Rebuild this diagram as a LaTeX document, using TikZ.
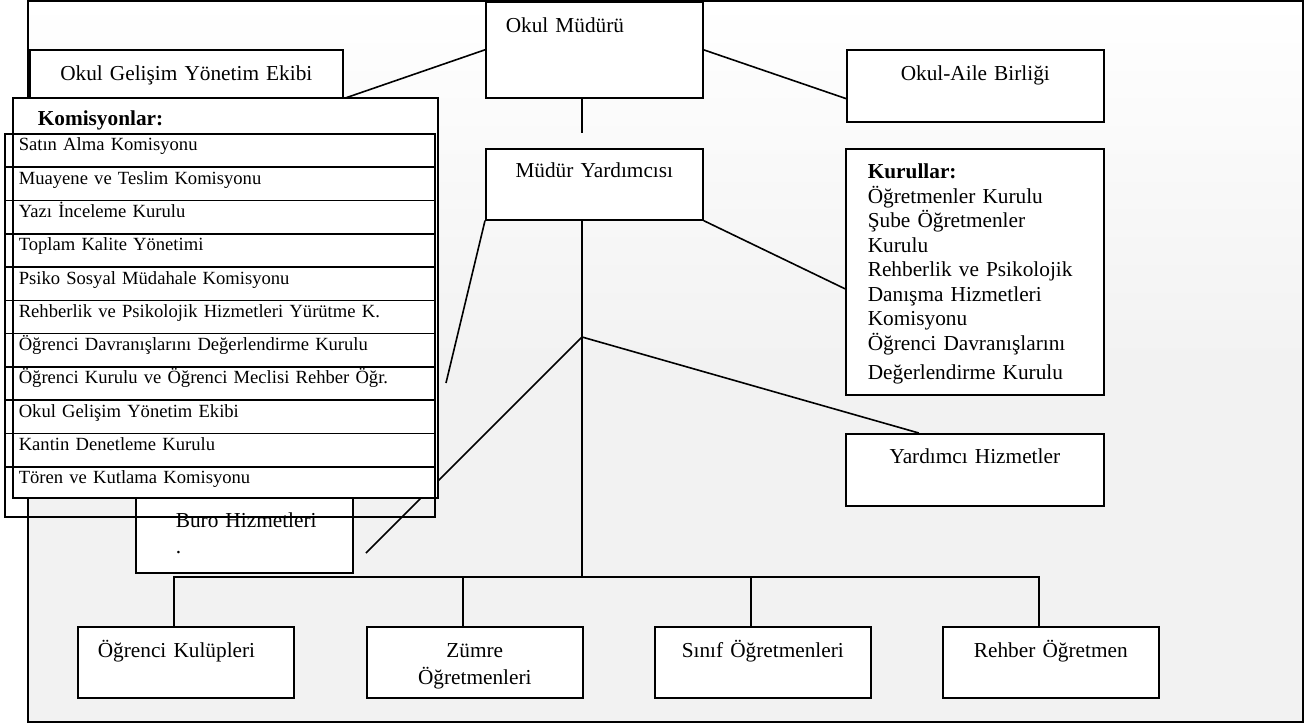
\documentclass[tikz,border=0pt]{standalone}
\usepackage{fontspec}
\setmainfont{Liberation Serif}
\usetikzlibrary{backgrounds}
\definecolor{bggray}{RGB}{242,242,242}

\begin{document}
\begin{tikzpicture}[x=1pt, y=-1pt, line width=1.6pt,
    box/.style={draw, rectangle, fill=white, anchor=north west, inner xsep=0pt, inner ysep=0pt,
      align=center, font=\fontsize{21.3}{24.5}\selectfont},
    altbox/.style={box, text width=216pt, text height=31pt, text depth=40pt},
    komrow/.style={draw, rectangle, anchor=north west, inner xsep=14pt, inner ysep=0pt,
      text width=402pt, align=left, text height=17pt, text depth=16.3pt,
      font=\fontsize{18.6}{21}\selectfont},
    baglanti/.style={draw, line width=1.6pt}]
  \useasboundingbox (0,0) rectangle (1310,726);

  % ust kisim
  \node[box, text width=177pt, inner xsep=20pt, align=left, text height=31pt, text depth=65pt] (mudur) at (485,1) {Okul Müdürü};
  \node[box, text width=313pt, text height=31pt, text depth=17pt] (ekip) at (29,49) {Okul Gelişim Yönetim Ekibi};
  \node[box, text width=257pt, text height=31pt, text depth=41pt] (aile) at (846,49) {Okul-Aile Birliği};
  \node[box, text width=217pt, text height=29pt, text depth=42pt] (mudyard) at (485,148) {Müdür Yardımcısı};
  \node[box, text width=214pt, inner xsep=22pt, align=left, text height=30pt, text depth=216pt] (kurul) at (845,148)
    {\textbf{Kurullar:}\\Öğretmenler Kurulu\\Şube Öğretmenler\\Kurulu\\Rehberlik ve Psikolojik\\Danışma Hizmetleri\\Komisyonu\\Öğrenci Davranışlarını\\[4.5pt]Değerlendirme Kurulu};
  \node[box, text width=258pt, text height=30pt, text depth=42pt] (yardhiz) at (845,433) {Yardımcı Hizmetler};
  \node[box, text width=177pt, inner xsep=20pt, align=left, text height=37pt, text depth=45pt] (buro) at (135,490)
    {\hspace*{20pt}Buro Hizmetleri\\[1.5pt]\hspace*{20pt}.};

  % komisyonlar
  \node[box, text width=375pt, inner xsep=25pt, align=left, text height=28pt, text depth=372pt] (komisyon) at (12,97) {\textbf{Komisyonlar:}};
  \foreach \komad [count=\i] in {Satın Alma Komisyonu, Muayene ve Teslim Komisyonu, Yazı İnceleme Kurulu,
      Toplam Kalite Yönetimi, Psiko Sosyal Müdahale Komisyonu, Rehberlik ve Psikolojik Hizmetleri Yürütme K.,
      Öğrenci Davranışlarını Değerlendirme Kurulu, Öğrenci Kurulu ve Öğrenci Meclisi Rehber Öğr.,
      Okul Gelişim Yönetim Ekibi, Kantin Denetleme Kurulu}
    \node[komrow] (kom\i) at (4,{133+(\i-1)*33.3}) {\komad};
  \node[komrow, text depth=33pt] (kom11) at (4,466) {Tören ve Kutlama Komisyonu};

  % alt kisim
  \node[altbox, text width=176pt, inner xsep=20pt, align=left] (kulup) at (77,626) {Öğrenci Kulüpleri};
  \node[altbox] (zumre) at (366,626) {Zümre\\[2.5pt]Öğretmenleri};
  \node[altbox] (sinif) at (654,626) {Sınıf Öğretmenleri};
  \node[altbox] (rehber) at (942,626) {Rehber Öğretmen};

  \begin{pgfonlayer}{background}
    \draw[baglanti, top color=white, bottom color=bggray, middle color=bggray] (28,1) rectangle (1303,722);
    \coordinate (mudurend) at (582,133);
    \coordinate (komend) at (446,383);
    \coordinate (dal) at (582,337);
    \coordinate (buroend) at (366,553);
    \coordinate (bus) at (582,577);
    \draw[baglanti] (mudur.west) -- (ekip.south east);
    \draw[baglanti] (mudur.east) -- (aile.west |- mudur.south);
    \draw[baglanti] (mudurend |- mudur.south) -- (mudurend);
    \draw[baglanti] (mudyard.south west) -- (komend);
    \draw[baglanti] (mudyard.south east) -- ([yshift=-17pt]kurul.west);
    \draw[baglanti] (bus |- mudyard.south) -- (bus);
    \draw[baglanti] (dal) -- ([xshift=-56pt]yardhiz.north);
    \draw[baglanti] (dal) -- (buroend);
    \draw[baglanti] ([xshift=-12pt]kulup.north) |- (bus) -| ([xshift=-12pt]rehber.north);
    \draw[baglanti] ([xshift=-12pt]zumre.north) -- ([xshift=-12pt]zumre.north |- bus);
    \draw[baglanti] ([xshift=-12pt]sinif.north) -- ([xshift=-12pt]sinif.north |- bus);
  \end{pgfonlayer}
\end{tikzpicture}
\end{document}
